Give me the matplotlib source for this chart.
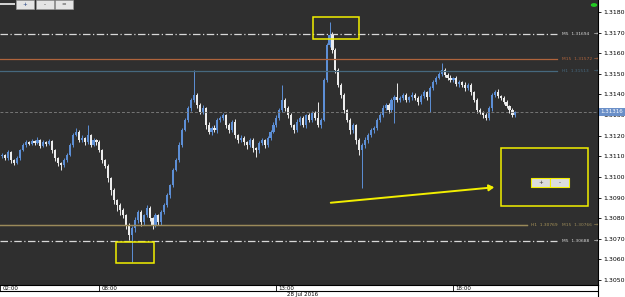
import numpy as np
import matplotlib
matplotlib.use('Agg')
import matplotlib.pyplot as plt
from matplotlib.patches import Rectangle, FancyArrowPatch

W, H = 625, 297

# 5 minute candles
first_open = 1.31100
closes = [
    1.31106, 1.31092, 1.31121, 1.31082, 1.31067, 1.31092, 1.31130, 1.31155, 1.31169, 1.31160,
    1.31174, 1.31164, 1.31179, 1.31150, 1.31169, 1.31160, 1.31174, 1.31130, 1.31092, 1.31067,
    1.31058, 1.31082, 1.31106, 1.31155, 1.31203, 1.31218, 1.31179, 1.31189, 1.31169, 1.31203,
    1.31155, 1.31179, 1.31169, 1.31130, 1.31082, 1.31053, 1.30995, 1.30936, 1.30888, 1.30864,
    1.30839, 1.30815, 1.30767, 1.30718, 1.30752, 1.30791, 1.30830, 1.30781, 1.30815, 1.30849,
    1.30801, 1.30767, 1.30815, 1.30781, 1.30830, 1.30864, 1.30912, 1.30961, 1.31033, 1.31082,
    1.31155, 1.31227, 1.31276, 1.31334, 1.31373, 1.31397, 1.31349, 1.31315, 1.31334, 1.31252,
    1.31218, 1.31237, 1.31227, 1.31276, 1.31286, 1.31300, 1.31252, 1.31227, 1.31266, 1.31203,
    1.31179, 1.31189, 1.31169, 1.31155, 1.31179, 1.31140, 1.31130, 1.31164, 1.31179, 1.31155,
    1.31189, 1.31218, 1.31252, 1.31286, 1.31324, 1.31373, 1.31334, 1.31300, 1.31252, 1.31227,
    1.31266, 1.31286, 1.31252, 1.31300, 1.31276, 1.31310, 1.31286, 1.31252, 1.31276, 1.31470,
    1.31640, 1.31688, 1.31615, 1.31518, 1.31446, 1.31397, 1.31324, 1.31276, 1.31227, 1.31252,
    1.31179, 1.31130, 1.31155, 1.31179, 1.31203, 1.31227, 1.31237, 1.31276, 1.31300, 1.31334,
    1.31349, 1.31324, 1.31373, 1.31388, 1.31373, 1.31383, 1.31397, 1.31373, 1.31388, 1.31397,
    1.31383, 1.31363, 1.31392, 1.31412, 1.31388, 1.31431, 1.31460, 1.31480, 1.31499, 1.31518,
    1.31494, 1.31480, 1.31470, 1.31480, 1.31451, 1.31460, 1.31446, 1.31431, 1.31446, 1.31412,
    1.31373, 1.31324, 1.31315, 1.31300, 1.31286, 1.31334, 1.31397, 1.31412, 1.31392, 1.31383,
    1.31363, 1.31344, 1.31324, 1.31300, 1.31316,
]
# wick lengths beyond the body, in points (0.00001)
wick_up = [
    8, 6, 10, 5, 7, 9, 6, 12, 8, 5, 10, 7, 14, 6, 9, 5, 8, 6, 4, 7, 5, 9, 8, 12, 10,
    20, 8, 12, 6, 49, 7, 10, 6, 8, 5, 6, 8, 4, 10, 6, 12, 8, 5, 9, 10, 15, 8, 12, 6, 14,
    8, 5, 12, 6, 10, 8, 12, 6, 9, 10, 14, 8, 10, 12, 8, 121, 10, 8, 14, 6, 12, 8, 15, 10, 8,
    12, 6, 10, 8, 14, 6, 12, 8, 5, 10, 8, 6, 12, 9, 7, 10, 8, 12, 15, 10, 73, 12, 8, 10, 6,
    14, 8, 10, 6, 12, 8, 10, 77, 8, 12, 8, 63, 14, 10, 12, 8, 10, 6, 12, 8, 6, 10, 8, 14, 10,
    8, 12, 10, 8, 14, 10, 8, 12, 10, 67, 8, 12, 10, 6, 14, 8, 10, 12, 8, 6, 10, 12, 8, 10, 34,
    10, 8, 12, 6, 10, 8, 6, 12, 8, 10, 6, 8, 10, 6, 8, 10, 12, 8, 14, 6, 8, 10, 6, 8, 5,
]
wick_dn = [
    6, 10, 8, 12, 9, 6, 8, 5, 10, 7, 6, 9, 5, 8, 6, 10, 7, 12, 15, 14, 25, 8, 10, 6, 8,
    6, 10, 8, 12, 7, 10, 6, 12, 8, 15, 12, 20, 25, 18, 30, 22, 15, 20, 25, 131, 18, 12, 20, 15, 10,
    14, 20, 10, 15, 12, 10, 8, 12, 10, 6, 8, 10, 6, 8, 12, 8, 14, 10, 12, 18, 10, 14, 8, 12, 10,
    8, 14, 12, 10, 15, 12, 10, 14, 18, 12, 20, 33, 12, 10, 14, 8, 10, 6, 8, 10, 8, 12, 14, 10, 15,
    8, 12, 10, 14, 8, 12, 10, 8, 14, 6, 8, 10, 12, 14, 10, 12, 15, 12, 18, 14, 20, 25, 184, 15, 12,
    10, 14, 8, 12, 10, 8, 14, 10, 112, 10, 8, 12, 10, 8, 14, 10, 12, 8, 10, 14, 73, 8, 10, 6, 8,
    10, 8, 12, 10, 8, 14, 10, 12, 8, 14, 12, 15, 10, 12, 10, 8, 12, 10, 8, 12, 10, 8, 12, 10, 8,
]

level_names = ['M5', 'M15', 'H1', 'H1', 'M15', 'M5']
level_prices = [1.31694, 1.31572, 1.31513, 1.30769, 1.30766, 1.30688]
last_price = 1.31316

price_ticks = [1.3050, 1.3060, 1.3070, 1.3080, 1.3090, 1.3100, 1.3110, 1.3120,
               1.3130, 1.3140, 1.3150, 1.3160, 1.3170, 1.3180]
time_labels = ['02:00', '08:00', '13:00', '18:00']
time_pos = [-0.7, 33, 93, 153]
date_label = '28 Jul 2016'

BG = '#2f2f2f'
UP = '#5d8fd6'
DOWN = '#ececec'

fig = plt.figure(figsize=(W / 100, H / 100), dpi=100, facecolor='white')
ax = fig.add_axes([0, 12 / H, 598 / W, 285 / H], facecolor=BG)

closes = np.array(closes)
opens = np.r_[first_open, closes[:-1]]
x = np.arange(len(closes))
top = np.maximum(opens, closes)
bot = np.minimum(opens, closes)
highs = top + np.array(wick_up) * 1e-5
lows = bot - np.array(wick_dn) * 1e-5
cols = np.where(closes >= opens, UP, DOWN)

ax.vlines(x, lows, highs, colors=cols, lw=0.7)
ax.bar(x, np.maximum(top - bot, 0.00003), bottom=bot, width=0.72, color=cols, linewidth=0)

ax.set_xlim(-0.7, 202.0)
ax.set_ylim(1.30476, 1.31858)

# support / resistance levels
yt = ax.get_yaxis_transform()
dashdot = (0, (6, 2, 1, 2))
styles = [('#d8d8d8', dashdot, 0.931, 0.939, True),
          ('#b0643c', '-', 0.931, 0.939, True),
          ('#46687e', '-', 0.931, 0.939, True),
          ('#a89458', '-', 0.881, 0.888, False),
          ('#9a8a5a', '-', 0.881, 0.940, True),
          ('#d8d8d8', dashdot, 0.931, 0.939, True)]
for name, p, (c, ls, xe, xl, arrow) in zip(level_names, level_prices, styles):
    ax.plot([0, xe], [p, p], color=c, ls=ls, lw=0.9, transform=yt)
    ax.text(xl, p, f'{name}  {p:.5f}', color=c, fontsize=3.2, va='center', transform=yt)
    if arrow:
        ax.text(0.9965, p, '→', color=c, fontsize=3.6, va='center', ha='center', transform=yt)

# current price
ax.axhline(last_price, color='#767676', lw=0.7, ls=(0, (3, 2)))
ax.text(1.004, last_price, f'{last_price:.5f}', color='white', fontsize=4, va='center',
        transform=yt, clip_on=False,
        bbox=dict(boxstyle='square,pad=0.25', fc='#6a8fc8', ec='none'))

ax.yaxis.tick_right()
ax.set_yticks(price_ticks)
ax.set_yticklabels([f'{t:.4f}' for t in price_ticks])
ax.tick_params(axis='y', labelsize=4.5, length=2.5, width=0.6, pad=1.5, colors='black')
ax.set_xticks([])
for s in ['top', 'left', 'bottom']:
    ax.spines[s].set_visible(False)
ax.spines['right'].set_color('black')
ax.spines['right'].set_linewidth(0.8)

# time strip
ax2 = fig.add_axes([0, 0, 598 / W, 12 / H], facecolor='white')
ax2.set_xlim(ax.get_xlim())
ax2.set_ylim(0, 1)
ax2.set_xticks([])
ax2.set_yticks([])
for s in ['left', 'bottom']:
    ax2.spines[s].set_visible(False)
ax2.spines['top'].set_linewidth(0.8)
ax2.spines['right'].set_linewidth(0.8)
ax2.axhline(0.46, color='black', lw=0.8)
for t, p in zip(time_labels, time_pos):
    ax2.vlines(p, 0.46, 1, color='black', lw=0.6)
    ax2.text(p + 0.8, 0.74, t, fontsize=4, va='center', ha='left')
ax2.text(96.6, 0.18, date_label, fontsize=4, va='center', ha='left')


def px(xp, yp):
    return xp / W, 1 - yp / H


# toolbar on top left
fig.add_artist(Rectangle(px(0, 5), 15 / W, 1.5 / H, fc='#d0d0d0', ec='none'))
for x0, lab, c in [(16, '+', '#204080'), (36, '-', '#333333'), (55, '=', '#333333')]:
    fig.add_artist(Rectangle(px(x0, 9), 18 / W, 9 / H, fc='#e4e4e4', ec='#a0a0a0', lw=0.4))
    fig.text(*px(x0 + 9, 4.5), lab, fontsize=4, ha='center', va='center', color=c)
fig.add_artist(plt.Circle(px(594, 5), 2.5 / W, color='#22cc22', transform=fig.transFigure))

# yellow annotations
YEL = '#f2ef00'
for (x0, y0, x1, y1) in [(313, 17, 359, 39), (116, 242, 154, 263), (501, 148, 588, 206)]:
    fig.add_artist(Rectangle(px(x0, y1), (x1 - x0) / W, (y1 - y0) / H,
                             fill=False, ec=YEL, lw=1.1))
for x0, lab in [(531, '+'), (550, '-')]:
    fig.add_artist(Rectangle(px(x0, 187), 19 / W, 9 / H, fc='#dcdcdc', ec=YEL, lw=0.8))
    fig.text(*px(x0 + 9.5, 182.5), lab, fontsize=4, ha='center', va='center', color='#333333')
fig.add_artist(FancyArrowPatch(px(328, 203), px(497, 187), arrowstyle='-|>,head_length=3,head_width=1.8',
                               color=YEL, lw=1.4, transform=fig.transFigure))

fig.savefig('out.png', dpi=100, facecolor='white')
